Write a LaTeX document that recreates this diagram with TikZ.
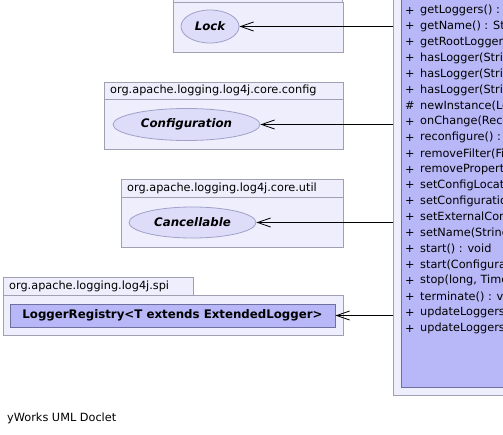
\documentclass[tikz,border=0pt]{standalone}
\usepackage{fontspec}
\setmainfont{DejaVu Sans}
\usetikzlibrary{arrows.meta,shapes.geometric}
\definecolor{pkgfill}{RGB}{238,238,252}
\definecolor{pkgdraw}{RGB}{160,160,178}
\definecolor{ellfill}{RGB}{221,221,250}
\definecolor{elldraw}{RGB}{160,160,200}
\definecolor{clsfill}{RGB}{184,184,248}
\definecolor{clsdraw}{RGB}{112,112,160}
\begin{document}
\begin{tikzpicture}[x=1pt,y=-1pt,
  pkgbox/.style={draw=pkgdraw,fill=pkgfill,line width=0.8pt,rectangle,inner sep=0pt,anchor=north west},
  pkglabel/.style={anchor=west,inner sep=0pt,font=\fontsize{11.3}{13}\selectfont},
  iface/.style={ellipse,draw=elldraw,fill=ellfill,line width=0.8pt,inner sep=0pt,font=\fontsize{11.8}{14}\selectfont\bfseries\itshape},
  cls/.style={rectangle,draw=clsdraw,fill=clsfill,line width=0.8pt,inner sep=0pt},
  meth/.style={anchor=west,inner sep=0pt,font=\fontsize{11.3}{13}\selectfont},
  dep/.style={draw=black,line width=0.8pt,-{Straight Barb[length=13pt,width=9pt,line width=0.8pt]}}]
\useasboundingbox (0,0) rectangle (503,434);
\clip (0,0) rectangle (503,434);

% Lock package
\node[pkgbox,minimum width=169pt,minimum height=20pt] (locktab) at (173,-18) {};
\node[pkgbox,minimum width=170pt,minimum height=50pt] (lockpkg) at (173,2) {};
\node[iface,minimum width=58pt,minimum height=33pt] (lock) at (210,26.5) {Lock};

% Configuration package
\node[pkgbox,minimum width=239pt,minimum height=17pt] (conftab) at (104,82) {};
\node[pkglabel] (conflbl) at (110,90.5) {org.apache.logging.log4j.core.config};
\node[pkgbox,minimum width=239pt,minimum height=50pt] (confpkg) at (104,99) {};
\node[iface,minimum width=147pt,minimum height=32pt] (conf) at (186.5,124.5) {Configuration};

% Cancellable package
\node[pkgbox,minimum width=222pt,minimum height=18pt] (canctab) at (121,179) {};
\node[pkglabel] (canclbl) at (127,188) {org.apache.logging.log4j.core.util};
\node[pkgbox,minimum width=222pt,minimum height=50pt] (cancpkg) at (121,197) {};
\node[iface,minimum width=127pt,minimum height=31pt] (canc) at (192.5,222.5) {Cancellable};

% spi package
\node[pkgbox,minimum width=190pt,minimum height=18pt] (spitab) at (3,277) {};
\node[pkglabel] (spilbl) at (9,286) {org.apache.logging.log4j.spi};
\node[pkgbox,minimum width=340pt,minimum height=40pt] (spipkg) at (3,295) {};
\node[cls,minimum width=325pt,minimum height=23pt,font=\fontsize{11.8}{14}\selectfont\bfseries] (reg) at (172.5,315.5) {LoggerRegistry<T extends ExtendedLogger>};

% LoggerContext package and class (cut off)
\node[pkgbox,anchor=south west,minimum width=200pt,minimum height=450pt] (ctxpkg) at (393,396) {};
\node[cls,anchor=south west,minimum width=150pt,minimum height=440pt] (ctx) at (401,388) {};

\foreach \i/\v/\t in {0/+/getLoggers() : Collection<Logger>,
  1/+/getName() : String,
  2/+/getRootLogger() : Logger,
  3/+/hasLogger(String) : boolean,
  4/+/hasLogger(String{,} MessageFactory) : boolean,
  5/+/hasLogger(String{,} Class) : boolean,
  6/\#/newInstance(LoggerContext{,} String{,} MessageFactory) : Logger,
  7/+/onChange(Reconfigurable) : void,
  8/+/reconfigure() : void,
  9/+/removeFilter(Filter) : void,
  10/+/removePropertyChangeListener(PropertyChangeListener) : void,
  11/+/setConfigLocation(URI) : void,
  12/+/setConfiguration(Configuration) : Configuration,
  13/+/setExternalContext(Object) : void,
  14/+/setName(String) : void,
  15/+/start() : void,
  16/+/start(Configuration) : void,
  17/+/stop(long{,} TimeUnit) : boolean,
  18/+/terminate() : void,
  19/+/updateLoggers() : void,
  20/+/updateLoggers(Configuration) : void}
{
  \node[meth] at (405,10.5+15.9*\i) {\v};
  \node[meth] at (420,10.5+15.9*\i) {\t};
}

% dependencies
\draw[dep] (lock -| ctxpkg.west) -- (lock.east);
\draw[dep] (conf -| ctxpkg.west) -- (conf.east);
\draw[dep] (canc -| ctxpkg.west) -- (canc.east);
\draw[dep] (reg -| ctxpkg.west) -- (reg.east);

\node[anchor=west,inner sep=0pt,font=\fontsize{11.3}{13}\selectfont] (credit) at (7,418) {yWorks UML Doclet};
\end{tikzpicture}
\end{document}
